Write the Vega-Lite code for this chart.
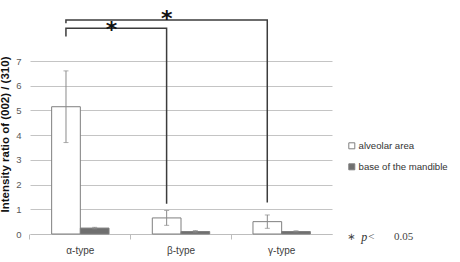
{
  "$schema": "https://vega.github.io/schema/vega-lite/v6.json",
  "width": 302,
  "height": 173,
  "autosize": "none",
  "padding": {"left": 30, "top": 61, "right": 128, "bottom": 28},
  "background": "white",
  "config": {
    "view": {"stroke": null},
    "font": "Liberation Sans",
    "axisY": {
      "domain": false,
      "ticks": false,
      "labelPadding": 9,
      "labelColor": "#595959",
      "labelFontSize": 9.5,
      "gridColor": "#c4c4c4",
      "gridWidth": 1,
      "tickCount": 7,
      "titleFont": "Liberation Sans",
      "titleFontWeight": "bold",
      "titleFontSize": 11.5,
      "titleColor": "#111111",
      "titleX": -25,
      "titleY": 73,
      "titleBaseline": "middle",
      "titleAngle": -90
    }
  },
  "datasets": {
    "bars": [
      {"type": "α-type", "site": "alveolar area", "value": 5.15, "lo": 3.7, "hi": 6.6},
      {"type": "α-type", "site": "base of the mandible", "value": 0.24, "lo": 0.21, "hi": 0.27},
      {"type": "β-type", "site": "alveolar area", "value": 0.65, "lo": 0.35, "hi": 0.95},
      {"type": "β-type", "site": "base of the mandible", "value": 0.1, "lo": 0.07, "hi": 0.14},
      {"type": "γ-type", "site": "alveolar area", "value": 0.5, "lo": 0.23, "hi": 0.77},
      {"type": "γ-type", "site": "base of the mandible", "value": 0.1, "lo": 0.08, "hi": 0.13}
    ],
    "brackets": [
      {"b": "g", "i": 0, "x": 0.357, "y": 8.53},
      {"b": "g", "i": 1, "x": 0.357, "y": 8.66},
      {"b": "g", "i": 2, "x": 2.357, "y": 8.66},
      {"b": "g", "i": 3, "x": 2.357, "y": 1.27},
      {"b": "b", "i": 0, "x": 0.357, "y": 7.99},
      {"b": "b", "i": 1, "x": 0.357, "y": 8.33},
      {"b": "b", "i": 2, "x": 1.357, "y": 8.33},
      {"b": "b", "i": 3, "x": 1.357, "y": 1.22}
    ],
    "stars": [
      {"x": 0.81, "y": 7.97, "t": "*"},
      {"x": 1.358, "y": 8.42, "t": "*"}
    ],
    "noteStar": [
      {"x": 3.149, "y": -0.12, "t": "∗"}
    ],
    "note": [
      {"x": 3.36, "y": -0.12, "t": "<"},
      {"x": 3.616, "y": -0.12, "t": "0.05"}
    ],
    "noteItalic": [
      {"x": 3.29, "y": -0.12, "t": "p"}
    ]
  },
  "layer": [
    {
      "data": {"name": "bars"},
      "encoding": {
        "x": {
          "field": "type",
          "type": "nominal",
          "sort": ["α-type", "β-type", "γ-type"],
          "scale": {"paddingInner": 0.43, "paddingOuter": 0.215},
          "title": null,
          "axis": {
            "labelAngle": 0,
            "labelColor": "#404040",
            "labelFontSize": 10,
            "labelPadding": 6,
            "domainColor": "#bdbdbd",
            "tickColor": "#bdbdbd",
            "tickSize": 5,
            "bandPosition": -0.38,
            "grid": false
          }
        },
        "xOffset": {"field": "site", "type": "nominal", "sort": ["alveolar area", "base of the mandible"]}
      },
      "layer": [
        {
          "mark": {"type": "bar", "stroke": "#7f7f7f", "strokeWidth": 1},
          "encoding": {
            "y": {
              "field": "value",
              "type": "quantitative",
              "scale": {"domain": [0, 7], "nice": false},
              "title": "Intensity ratio of (002) / (310)"
            },
            "color": {
              "field": "site",
              "type": "nominal",
              "scale": {"domain": ["alveolar area", "base of the mandible"], "range": ["#ffffff", "#6f6f6f"]},
              "legend": {
                "title": null,
                "orient": "none",
                "legendX": 317,
                "legendY": 80,
                "symbolType": "square",
                "symbolSize": 36,
                "symbolStrokeColor": "#7f7f7f",
                "symbolStrokeWidth": 1,
                "labelFontSize": 9.6,
                "labelColor": "#333333",
                "labelOffset": 2,
                "rowPadding": 10
              }
            }
          }
        },
        {
          "mark": {"type": "rule", "color": "#8a8a8a", "strokeWidth": 1},
          "encoding": {
            "y": {"field": "lo", "type": "quantitative", "title": "Intensity ratio of (002) / (310)"},
            "y2": {"field": "hi"}
          }
        },
        {
          "mark": {"type": "tick", "color": "#8a8a8a", "orient": "horizontal", "size": 5, "thickness": 1},
          "encoding": {
            "y": {"field": "lo", "type": "quantitative", "title": "Intensity ratio of (002) / (310)"}
          }
        },
        {
          "mark": {"type": "tick", "color": "#8a8a8a", "orient": "horizontal", "size": 5, "thickness": 1},
          "encoding": {
            "y": {"field": "hi", "type": "quantitative", "title": "Intensity ratio of (002) / (310)"}
          }
        }
      ]
    },
    {
      "encoding": {
        "x": {"field": "x", "type": "quantitative", "scale": {"domain": [0, 3], "nice": false, "zero": false}, "axis": null},
        "y": {"field": "y", "type": "quantitative", "title": "Intensity ratio of (002) / (310)"}
      },
      "layer": [
        {
          "data": {"name": "brackets"},
          "mark": {"type": "line", "color": "#3c3c3c", "strokeWidth": 1.5, "strokeJoin": "miter"},
          "encoding": {
            "detail": {"field": "b", "type": "nominal"},
            "order": {"field": "i", "type": "quantitative"}
          }
        },
        {
          "data": {"name": "stars"},
          "mark": {"type": "text", "font": "DejaVu Sans", "fontWeight": "bold", "fontSize": 22, "align": "center", "baseline": "alphabetic", "color": "#111111"},
          "encoding": {"text": {"field": "t"}}
        },
        {
          "data": {"name": "noteStar"},
          "mark": {"type": "text", "font": "DejaVu Sans", "fontSize": 10, "align": "left", "baseline": "middle", "color": "#444444"},
          "encoding": {"text": {"field": "t"}}
        },
        {
          "data": {"name": "note"},
          "mark": {"type": "text", "font": "Liberation Serif", "fontSize": 11, "align": "left", "baseline": "middle", "color": "#444444"},
          "encoding": {"text": {"field": "t"}}
        },
        {
          "data": {"name": "noteItalic"},
          "mark": {"type": "text", "font": "Liberation Serif", "fontStyle": "italic", "fontSize": 12, "align": "left", "baseline": "middle", "color": "#333333"},
          "encoding": {"text": {"field": "t"}}
        }
      ]
    }
  ],
  "resolve": {"scale": {"x": "independent"}, "axis": {"x": "independent"}}
}
